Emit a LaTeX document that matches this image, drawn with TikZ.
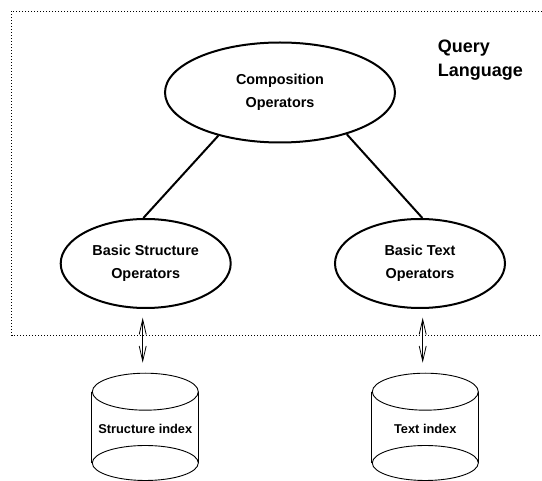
\documentclass[tikz,border=0pt]{standalone}
\usepackage{fontspec}
\setmainfont{Liberation Sans}
\usetikzlibrary{shapes.geometric,arrows.meta}
\begin{document}
\begin{tikzpicture}[x=1pt,y=-1pt,
  op/.style={ellipse,draw,line width=2pt,inner sep=0pt,minimum width=170pt,minimum height=89pt,align=center,font=\bfseries\fontsize{14.4}{23}\selectfont},
  link/.style={line width=2pt},
  cyltop/.style={ellipse,draw,line width=0.9pt,inner sep=0pt,minimum width=106pt,minimum height=37pt},
  cylline/.style={line width=0.9pt},
  idx/.style={font=\bfseries\fontsize{12.8}{15}\selectfont,inner sep=0pt},
  dbl/.style={line width=0.8pt,{Straight Barb[length=15pt,width=7pt]}-{Straight Barb[length=15pt,width=7pt]}},
  frame/.style={line width=0.8pt,dash pattern=on 0.8pt off 2.2pt}
]
\useasboundingbox (0,0) rectangle (542,481);
% dotted frame of the query language
\draw[frame] (560,11) -- (11.5,11) -- (11.5,335.7) -- (560,335.7);
\node[inner sep=0pt,anchor=west,align=left,font=\bfseries\fontsize{18}{24}\selectfont] (ql) at (437.7,60) {Query\\Language};
% operators
\node[op,minimum width=230pt,minimum height=100pt] (comp) at (280,92.5) {Composition\\Operators};
\node[op] (bs) at (145.7,263.5) {Basic Structure\\Operators};
\node[op] (bt) at (420,263.5) {Basic Text\\Operators};
\draw[link] (comp.215.3) -- (bs.93);
\draw[link] (comp.328.5) -- (bt.87);
% cylinders
\node[cyltop] (sic) at (145.3,391.7) {};
\draw[cylline] (sic.west) -- ++(0,71.3) coordinate (sibl);
\draw[cylline] (sic.east) -- ++(0,71.3) coordinate (sibr);
\draw[cylline] (145.3,463) ellipse [x radius=53pt, y radius=17.5pt];
\node[idx] (sit) at (145.3,429) {Structure index};
\node[cyltop] (tic) at (425.3,391.7) {};
\draw[cylline] (tic.west) -- ++(0,71.3) coordinate (tibl);
\draw[cylline] (tic.east) -- ++(0,71.3) coordinate (tibr);
\draw[cylline] (425.3,463) ellipse [x radius=53pt, y radius=17.5pt];
\node[idx] (tit) at (425.3,429) {Text index};
% arrows
\draw[dbl] ([xshift=-3pt,yshift=-8.7pt]bs.south) -- ([xshift=-2.6pt,yshift=10pt]sic.north);
\draw[dbl] ([xshift=2.7pt,yshift=-8.7pt]bt.south) -- ([xshift=-2.6pt,yshift=10pt]tic.north);
\end{tikzpicture}
\end{document}
